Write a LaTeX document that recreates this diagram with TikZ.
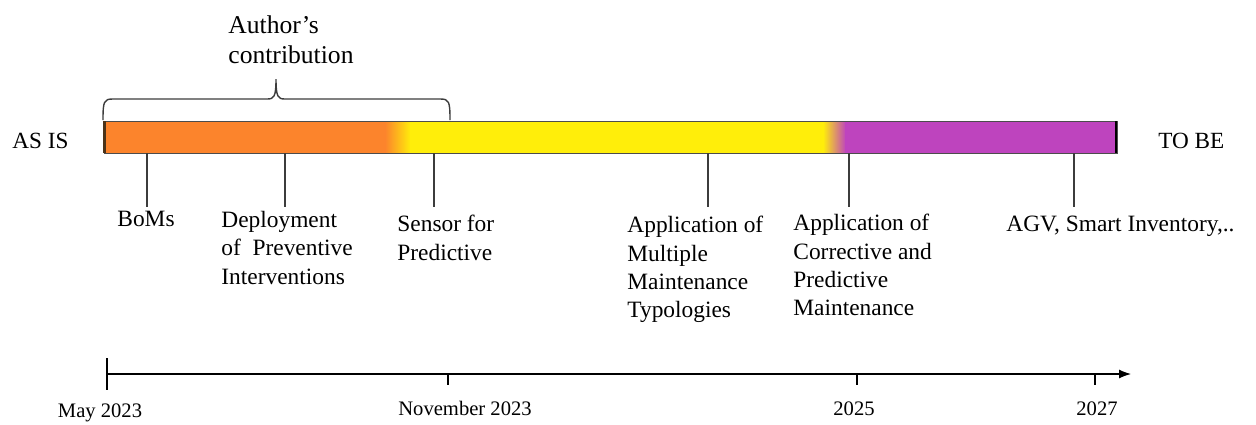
\documentclass[tikz,border=0pt]{standalone}
\usepackage{fontspec}
\setmainfont{Liberation Serif}
\usetikzlibrary{arrows.meta}
\definecolor{barorange}{RGB}{252,132,44}
\definecolor{baryellow}{RGB}{255,238,10}
\definecolor{barpurple}{RGB}{190,68,190}
\definecolor{inkgray}{RGB}{60,60,60}
\begin{document}
\begin{tikzpicture}[x=0.5pt,y=-0.5pt,
  lbl/.style={anchor=north west, align=left, inner sep=0pt,
    font=\fontsize{11.7}{14.15}\selectfont},
  side/.style={anchor=base west, inner sep=0pt, font=\fontsize{11.6}{14}\selectfont},
  datelbl/.style={anchor=base, inner sep=0pt, font=\fontsize{10.3}{12}\selectfont},
  tickline/.style={draw=inkgray, line width=0.6pt},
  axisline/.style={draw=black, line width=0.6pt},
  bracestyle/.style={draw=inkgray, line width=0.7pt}]
\useasboundingbox (0,0) rectangle (1256,424);

% colour bar: orange -> yellow -> purple
\fill[barorange] (104,121) rectangle (386,153);
\shade[left color=barorange, right color=baryellow] (385,121) rectangle (411,153);
\fill[baryellow] (410,121) rectangle (824,153);
\shade[left color=baryellow, right color=barpurple] (823,121) rectangle (846,153);
\fill[barpurple] (845,121) rectangle (1117,153);
\draw[draw=black!70, line width=0.5pt] (104,121) rectangle (1117,153);
\draw[line width=1.1pt, black!60!brown] (104.5,121) -- (104.5,153);
\draw[line width=1.3pt, black] (1116,121) -- (1116,153);

% end labels
\node[side] (asis) at (12,148) {AS IS};
\node[side] (tobe) at (1158,148) {TO BE};

% brace over the author's contribution
\node[anchor=north west, align=left, inner sep=0pt,
  font=\fontsize{12.8}{15}\selectfont] (author) at (228,15) {Author’s\\contribution};
\coordinate (brL) at (103,120);
\coordinate (brR) at (450,120);
\coordinate (brT) at (276,79);
\draw[bracestyle] (brL) .. controls (103,101) and (104,99) .. (113,99) -- (267,99)
  .. controls (274,99) and (276,97) .. (brT)
  .. controls (276,97) and (278,99) .. (285,99) -- (440,99)
  .. controls (449,99) and (450,101) .. (brR);

% milestone labels
\node[lbl] (boms) at (117,211) {BoMs};
\node[lbl] (deploy) at (221,211) {Deployment\\of\hspace{0.5em}Preventive\\Interventions};
\node[lbl] (sensor) at (397,215) {Sensor for\\Predictive};
\node[lbl] (multi) at (627,216) {Application of\\Multiple\\Maintenance\\Typologies};
\node[lbl] (corr) at (793,214) {Application of\\Corrective and\\Predictive\\Maintenance};
\node[lbl] (agv) at (1006,216) {AGV, Smart Inventory,..};

% ticks from the bar down to the labels
\foreach \n/\x in {1/147, 2/285, 3/434, 4/708, 5/849, 6/1074} {
  \coordinate (bt\n) at (\x,153);
  \coordinate (be\n) at (\x,207);
  \draw[tickline] (bt\n) -- (be\n);
}

% time axis
\coordinate (ax0) at (107,374);
\coordinate (ax1) at (1131,374);
\draw[axisline, -{Latex[length=6pt,width=4.5pt]}] (ax0) -- (ax1);
\coordinate (m0a) at (107,358);
\coordinate (m0b) at (107,390);
\draw[axisline] (m0a) -- (m0b);
\foreach \n/\x in {1/448, 2/857, 3/1095} {
  \coordinate (ta\n) at (\x,374);
  \coordinate (tb\n) at (\x,385);
  \draw[axisline] (ta\n) -- (tb\n);
}
\node[datelbl] (may) at (100,417) {May 2023};
\node[datelbl] (nov) at (465,415) {November 2023};
\node[datelbl] (y25) at (854,415) {2025};
\node[datelbl] (y27) at (1097,415) {2027};
\end{tikzpicture}
\end{document}
